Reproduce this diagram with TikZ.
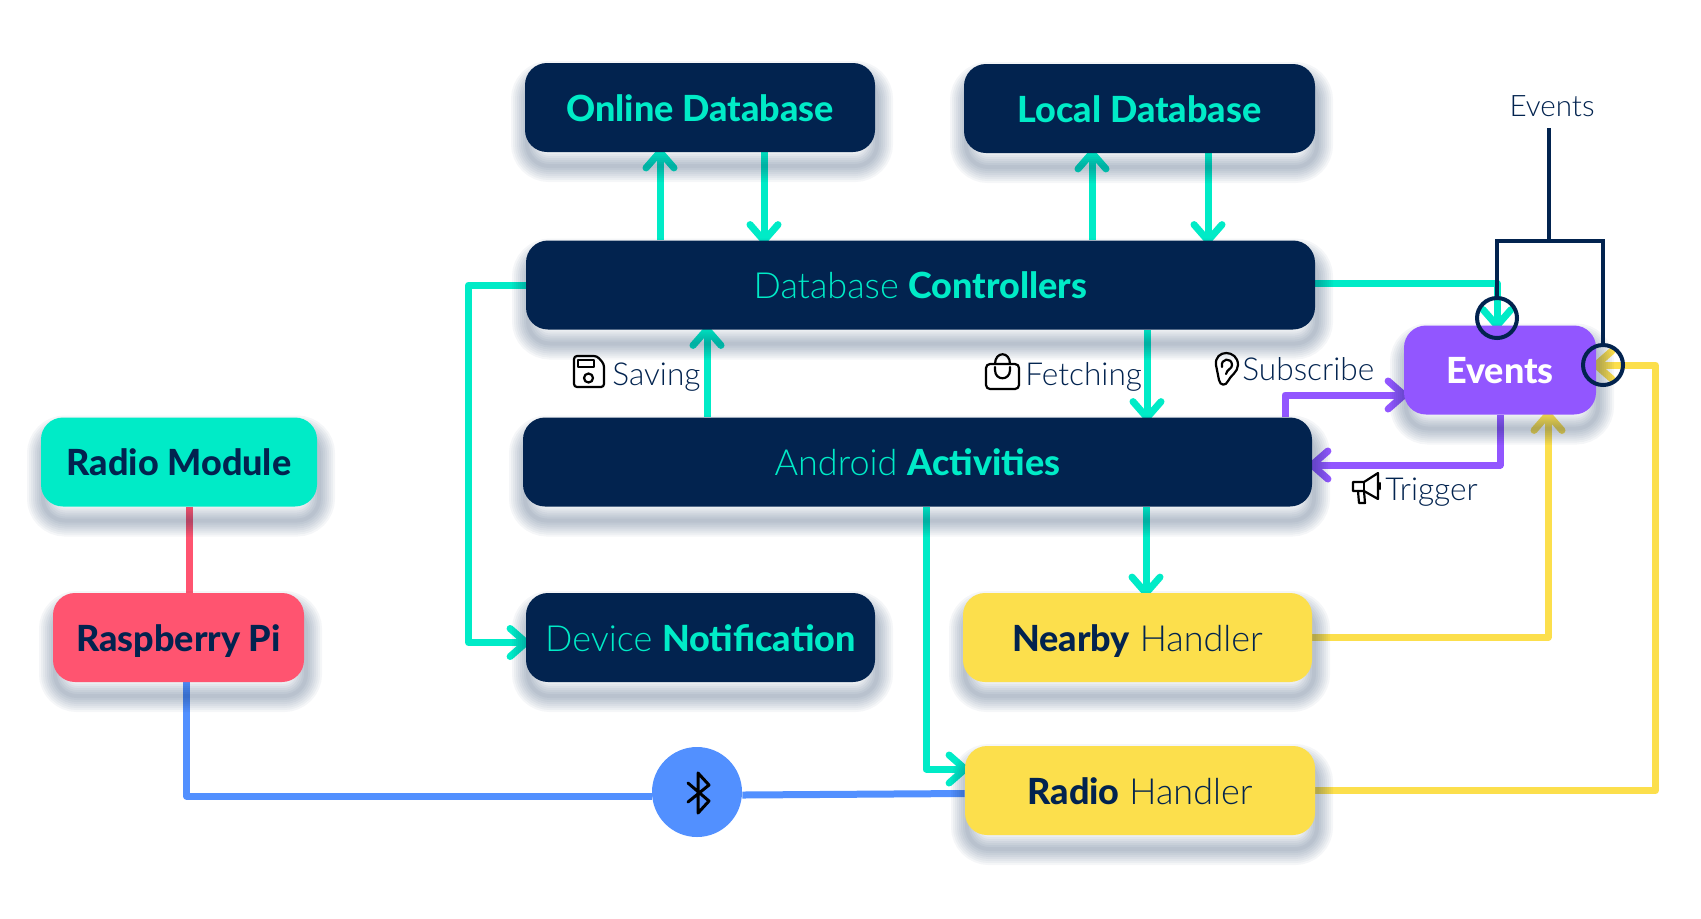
\documentclass[tikz,border=0pt]{standalone}
\usepackage{fontspec}
\setmainfont{Lato}[UprightFont={* Light},BoldFont={* Heavy}]
\usetikzlibrary{calc, arrows.meta, backgrounds}
\definecolor{navybox}{HTML}{02234F}
\definecolor{tealflow}{HTML}{00EBC7}
\definecolor{violetflow}{HTML}{9256FF}
\definecolor{yellowflow}{HTML}{FCDF4C}
\definecolor{blueflow}{HTML}{5290FF}
\definecolor{redflow}{HTML}{FF5470}

\begin{document}
\begin{tikzpicture}[
    x=0.5pt, y=-0.5pt,
    halo/.style={preaction={draw=navybox, draw opacity=0.04, line width=#1, transform canvas={xshift=1pt, yshift=-7pt}}},
    softshadow/.style={halo=16pt, halo=14pt, halo=12pt, halo=10pt, halo=8pt, halo=6pt, halo=4pt, halo=2pt},
    box/.style={softshadow, rounded corners=11pt, inner sep=0pt, minimum height=44.5pt, text height=13.5pt, text depth=0pt, font=\fontsize{18}{20}\selectfont},
    darkbox/.style={box, fill=navybox, text=tealflow},
    yellowbox/.style={box, fill=yellowflow, text=navybox},
    flow/.style={line width=3.5pt, line join=round, shorten >=-2pt, -{Straight Barb[length=8pt, width=14pt, round]}},
    plainflow/.style={line width=3.5pt, line join=round},
    tag/.style={text=navybox, font=\fontsize{15.8}{18}\selectfont, inner sep=0pt, text height=11pt, text depth=0pt},
    icon/.style={black, line width=1.1pt, line join=round, line cap=round},
    ring/.style={circle, draw=navybox, line width=2pt, minimum size=20pt, inner sep=0pt},
    wire/.style={navybox, line width=1.9pt}
]
\useasboundingbox (0,0) rectangle (1701,918);

% Boxes
\node[darkbox, minimum width=175pt] (online) at (700,107.5) {\textbf{Online Database}};
\node[darkbox, minimum width=175.5pt] (local) at (1139.5,108.5) {\textbf{Local Database}};
\node[darkbox, minimum width=394.5pt] (dbctrl) at (920.5,285) {Database \textbf{Controllers}};
\node[darkbox, minimum width=394.5pt] (android) at (917.5,462) {Android \textbf{Activities}};
\node[darkbox, minimum width=174.5pt] (device) at (700.5,637.5) {Device \textbf{Notification}};
\node[yellowbox, minimum width=174.5pt] (nearby) at (1137.5,637.5) {\textbf{Nearby} Handler};
\node[yellowbox, minimum width=175pt] (radioh) at (1140,790.5) {\textbf{Radio} Handler};
\node[box, fill=violetflow, text=white, minimum width=96pt] (events) at (1500,370) {\textbf{Events}};
\node[box, fill=tealflow, text=navybox, minimum width=138pt] (radiomod) at (179,462) {\textbf{Radio Module}};
\node[box, fill=redflow, text=navybox, minimum width=125.5pt] (raspi) at (178.5,637.5) {\textbf{Raspberry Pi}};
\node[circle, fill=blueflow, minimum size=45pt, inner sep=0pt] (bt) at (697,792) {};

\begin{scope}[on background layer]
% Database links
\draw[flow, tealflow] ([xshift=-130.25pt]dbctrl.north) -- ([xshift=-20pt]online.south);
\draw[flow, tealflow] ([xshift=32pt]online.south) -- ([xshift=-78.25pt]dbctrl.north);
\draw[flow, tealflow] ([xshift=85.75pt]dbctrl.north) -- ([xshift=-23.75pt]local.south);
\draw[flow, tealflow] ([xshift=34.25pt]local.south) -- ([xshift=143.75pt]dbctrl.north);

% Activities and controllers
\draw[flow, tealflow] ([xshift=-105.25pt]android.north) -- ([xshift=-106.75pt]dbctrl.south);
\draw[flow, tealflow] ([xshift=113.25pt]dbctrl.south) -- ([xshift=114.75pt]android.north);
\draw[flow, tealflow] (dbctrl.west) -- ++(-28.5pt,0pt) |- ([yshift=-2.5pt]device.west);
\draw[flow, tealflow] ([xshift=114.25pt]android.south) -- ([xshift=4.25pt]nearby.north);
\draw[flow, tealflow] ([xshift=4.25pt]android.south) |- ([yshift=10.75pt]radioh.west);
\draw[flow, tealflow] ([yshift=1pt]dbctrl.east) -| ([xshift=-1.5pt]events.north);

% Subscribe and trigger
\draw[flow, violetflow] ([xshift=183.75pt]android.north) |- ([yshift=-12.5pt]events.west);
\draw[flow, violetflow] (events.south) |- ([yshift=-1.5pt]android.east);

% Handlers back to events
\draw[flow, yellowflow] (nearby.east) -| ([xshift=24pt]events.south);
\draw[flow, yellowflow] (radioh.east) -- ++(170pt,0pt) |- ([yshift=2.5pt]events.east);

% Hardware side
\draw[plainflow, redflow] ([xshift=5pt]radiomod.south) -- ([xshift=5.25pt]raspi.north);
\draw[plainflow, blueflow] ([xshift=4pt]raspi.south) |- ([yshift=-2pt]bt.west);
\draw[plainflow, blueflow] ([yshift=-1.5pt]bt.east) -- ([yshift=-1.5pt]radioh.west);
\end{scope}

% Event bracket
\node[tag, font=\fontsize{14.8}{17}\selectfont] (evlabel) at (1552,105) {Events};
\node[ring] (evin) at (1497,318) {};
\node[ring] (evout) at (1603,365) {};
\coordinate (brace) at (1549,241);
\draw[wire] ([xshift=-1.5pt, yshift=-6pt]evlabel.south) -- (brace);
\draw[wire] (evin.north) |- (brace) -| (evout.north);

% Labels
\node[tag, anchor=west] (saving) at (612,374) {Saving};
\node[tag, anchor=west] (fetching) at (1025,374) {Fetching};
\node[tag, anchor=west] (subscribe) at (1242,369) {Subscribe};
\node[tag, anchor=west] (trigger) at (1385,489) {Trigger};

% Icons
\draw[icon, rounded corners=1.5pt] (574,356) -- (597,356) -- (604,364) -- (604,387) -- (574,387) -- cycle;
\draw[icon] (578,360) rectangle (594,367);
\draw[icon] (588.5,378) circle (4.5);

\draw[icon, rounded corners=2pt] (986,364) -- (1019,364) -- (1019,389) -- (986,389) -- cycle;
\draw[icon] (995,364) .. controls (995,351) and (1010,351) .. (1010,364);
\draw[icon] (995,367) -- (995,370) .. controls (995,381) and (1010,381) .. (1010,370) -- (1010,367);

\draw[icon] (1219,380) -- (1216,365) .. controls (1214,349) and (1238,349) .. (1238,365)
    .. controls (1238,372) and (1230,376) .. (1228,381) .. controls (1226,386) and (1220,386) .. (1219,380);
\draw[icon] (1222,367) .. controls (1220,358) and (1232,357) .. (1232,365) .. controls (1232,369) and (1227,369) .. (1226,374);

\draw[icon] (1353,482) -- (1364,482) -- (1378,473) -- (1378,499) -- (1364,491) -- (1353,491) -- cycle;
\draw[icon] (1364,482) -- (1364,491);
\draw[icon] (1358,491) -- (1359,503) -- (1365,503) -- (1364,491);
\draw[icon] (1380,483) -- (1380,489);

\draw[black, line width=1.5pt, line join=round, line cap=round]
    (688,802) -- (709,785) -- (698,773) -- (698,813) -- (709,801) -- (688,783);

\end{tikzpicture}
\end{document}
